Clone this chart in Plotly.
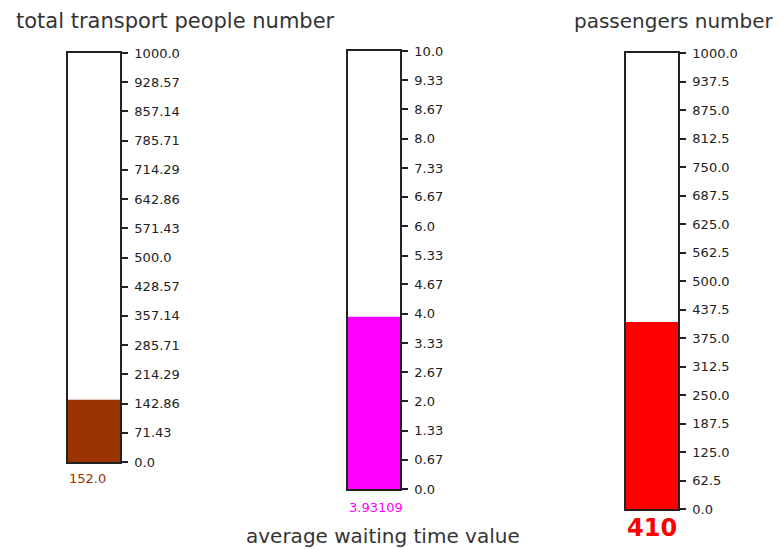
import plotly.graph_objects as go

# page body has an 8px margin; the figure starts at (8, 8) and reaches the window's right/bottom edge
OFF = 8
W, H = 781 - OFF, 549 - OFF

titles = ["total transport people number", "average waiting time value", "passengers number"]
values = [152.0, 3.93109, 410]
value_labels = ["152.0", "3.93109", "410"]
maxima = [1000.0, 10.0, 1000.0]
colors = ["#993300", "#ff00ff", "#ff0000"]

ticks1 = [0.0, 71.43, 142.86, 214.29, 285.71, 357.14, 428.57, 500.0, 571.43, 642.86, 714.29, 785.71, 857.14, 928.57, 1000.0]
ticktext1 = ["0.0", "71.43", "142.86", "214.29", "285.71", "357.14", "428.57", "500.0", "571.43", "642.86", "714.29", "785.71", "857.14", "928.57", "1000.0"]
ticks2 = [0.0, 0.67, 1.33, 2.0, 2.67, 3.33, 4.0, 4.67, 5.33, 6.0, 6.67, 7.33, 8.0, 8.67, 9.33, 10.0]
ticktext2 = ["0.0", "0.67", "1.33", "2.0", "2.67", "3.33", "4.0", "4.67", "5.33", "6.0", "6.67", "7.33", "8.0", "8.67", "9.33", "10.0"]
ticks3 = [0.0, 62.5, 125.0, 187.5, 250.0, 312.5, 375.0, 437.5, 500.0, 562.5, 625.0, 687.5, 750.0, 812.5, 875.0, 937.5, 1000.0]
ticktext3 = ["0.0", "62.5", "125.0", "187.5", "250.0", "312.5", "375.0", "437.5", "500.0", "562.5", "625.0", "687.5", "750.0", "812.5", "875.0", "937.5", "1000.0"]
tickvals = [ticks1, ticks2, ticks3]
ticktexts = [ticktext1, ticktext2, ticktext3]

# screen-pixel boxes: (left, right, top, bottom)
boxes = [(68, 120, 53, 462), (348, 400, 51, 489), (626, 678, 53, 509)]


def px(x):
    return (x - OFF) / W


def py(y):
    return 1 - (y - OFF) / H


fig = go.Figure()
layout = dict(
    width=W, height=H, margin=dict(l=0, r=0, t=0, b=0, autoexpand=False),
    paper_bgcolor="white", plot_bgcolor="white", showlegend=False,
    font=dict(family="DejaVu Sans", color="#222"),
)
annotations = []
for i in range(3):
    l, r, t, b = boxes[i]
    xa = "xaxis" if i == 0 else f"xaxis{i+1}"
    ya = "yaxis" if i == 0 else f"yaxis{i+1}"
    xr = "x" if i == 0 else f"x{i+1}"
    yr = "y" if i == 0 else f"y{i+1}"
    fig.add_trace(go.Bar(x=[0], y=[values[i]], width=[1], marker=dict(color=colors[i], line=dict(width=0)),
                         xaxis=xr, yaxis=yr, hoverinfo="skip"))
    layout[xa] = dict(domain=[px(l), px(r)], range=[-0.5, 0.5], showticklabels=False, ticks="",
                      showgrid=False, zeroline=False, showline=True, linecolor="#222", linewidth=1.5,
                      mirror=True, anchor=yr, fixedrange=True, automargin=False)
    layout[ya] = dict(domain=[py(b), py(t)], range=[0, maxima[i]], side="right",
                      tickvals=tickvals[i], ticktext=ticktexts[i], ticks="outside", ticklen=6,
                      tickwidth=1.5, tickcolor="#222", showgrid=False, zeroline=False,
                      showline=True, linecolor="#222", linewidth=1.5, mirror=True, anchor=xr,
                      ticklabelstandoff=4, automargin=False,
                      tickfont=dict(family="DejaVu Sans", size=13, color="#222"), fixedrange=True)

annotations.append(dict(text=titles[0], x=px(14), y=py(21), xref="paper", yref="paper",
                        xanchor="left", yanchor="middle", showarrow=False,
                        font=dict(family="DejaVu Sans", size=21, color="#333")))
annotations.append(dict(text=titles[1], x=px(383), y=py(536), xref="paper", yref="paper",
                        xanchor="center", yanchor="middle", showarrow=False,
                        font=dict(family="DejaVu Sans", size=20, color="#333")))
annotations.append(dict(text=titles[2], x=px(572), y=py(21), xref="paper", yref="paper",
                        xanchor="left", yanchor="middle", showarrow=False,
                        font=dict(family="DejaVu Sans", size=20, color="#333")))
annotations.append(dict(text=value_labels[0], x=px(67), y=py(478), xref="paper", yref="paper",
                        xanchor="left", yanchor="middle", showarrow=False,
                        font=dict(family="DejaVu Sans", size=13, color=colors[0])))
annotations.append(dict(text=value_labels[1], x=px(347), y=py(507), xref="paper", yref="paper",
                        xanchor="left", yanchor="middle", showarrow=False,
                        font=dict(family="DejaVu Sans", size=13, color=colors[1])))
annotations.append(dict(text="<b>" + value_labels[2] + "</b>", x=px(625), y=py(528), xref="paper", yref="paper",
                        xanchor="left", yanchor="middle", showarrow=False,
                        font=dict(family="DejaVu Sans", size=24, color=colors[2])))
layout["annotations"] = annotations
fig.update_layout(**layout)
fig.write_html("out.html", config={"displayModeBar": False})
